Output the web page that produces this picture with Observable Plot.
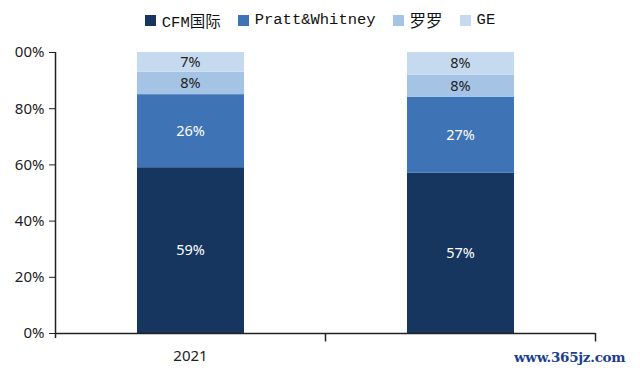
<!DOCTYPE html>
<html>
<head>
<meta charset="utf-8">
<script src="https://cdn.jsdelivr.net/npm/d3@7"></script>
<script src="https://cdn.jsdelivr.net/npm/@observablehq/plot@0.6"></script>
<style>
  html, body { margin: 0; padding: 0; background: #fff; }
  #wrap { position: relative; width: 640px; height: 376px; overflow: hidden; }
  #legend { position: absolute; top: 8px; left: 0; width: 640px; display: flex; justify-content: center; gap: 17px;
    font-family: "Liberation Mono", "Noto Sans CJK SC", monospace; font-size: 15.5px; color: #111; align-items: center; }
  #legend .item { display: flex; align-items: center; gap: 6px; }
  #legend .sw { width: 11px; height: 11px; display: inline-block; }
  #legend .cjk { font-family: "Noto Sans CJK SC", sans-serif; font-size: 16.5px; }
  #wm { position: absolute; left: 514px; top: 349px; font-family: "DejaVu Serif", serif; font-size: 13.5px; font-weight: bold; color: #1d3f8c; letter-spacing: -0.3px; }
</style>
</head>
<body>
<div id="wrap">
  <div id="chart"></div>
  <div id="legend"></div>
  <div id="wm">www.365jz.com</div>
</div>
<script>
const categories = ["2021", ""];
const companies = ["CFM国际", "Pratt&Whitney", "罗罗", "GE"];
const cfm = [59, 57];
const prattWhitney = [26, 27];
const rollsRoyce = [8, 8];
const ge = [7, 8];
const colors = ["#16365f", "#3e73b5", "#a5c3e5", "#c6daef"];
const labelColors = ["#ffffff", "#ffffff", "#222222", "#222222"];
const yTicks = [0, 20, 40, 60, 80, 100];
const yTickLabels = ["0%", "20%", "40%", "60%", "80%", "00%"];

const series = [cfm, prattWhitney, rollsRoyce, ge];
const rows = [];
categories.forEach((cat, i) => {
  let acc = 0;
  series.forEach((vals, s) => {
    const v = vals[i];
    rows.push({cat, i, company: companies[s], value: v, y1: acc, y2: acc + v, labelColor: labelColors[s]});
    acc += v;
  });
});

const chart = Plot.plot({
  width: 640,
  height: 376,
  marginTop: 52,
  marginBottom: 43,
  marginLeft: 55,
  marginRight: 45,
  style: {fontFamily: "'Noto Sans', sans-serif", fontSize: "15px", color: "#222", background: "#fff"},
  x: {domain: [0, categories.length], ticks: categories.map((c, i) => i + 0.5), tickFormat: v => categories[Math.floor(v)], tickSize: 0, tickPadding: 17, label: null},
  y: {domain: [0, 100], ticks: yTicks, tickFormat: v => yTickLabels[yTicks.indexOf(v)], tickSize: 6, tickPadding: 5, label: null},
  color: {domain: companies, range: colors},
  marks: [
    Plot.rect(rows, {x1: d => d.i, x2: d => d.i + 1, y1: "y1", y2: "y2", fill: "company", insetLeft: 82, insetRight: 81}),
    Plot.text(rows, {x: d => d.i + 0.5, y: d => (d.y1 + d.y2) / 2, text: d => d.value + "%", fill: "labelColor", fontSize: 14.5}),
    Plot.ruleY([0], {stroke: "#222", strokeWidth: 1.5}),
    Plot.ruleX([0], {y1: -1.8, y2: 100, stroke: "#222", strokeWidth: 1.5}),
    Plot.ruleX(d3.range(1, categories.length + 1), {y1: 0, y2: -3, stroke: "#222", strokeWidth: 1.5})
  ]
});
document.getElementById("chart").appendChild(chart);

const legend = document.getElementById("legend");
companies.forEach((c, s) => {
  const item = document.createElement("div");
  item.className = "item";
  const sw = document.createElement("span");
  sw.className = "sw";
  sw.style.background = colors[s];
  const t = document.createElement("span");
  t.textContent = c;
  if (/^[\u4e00-\u9fff]+$/.test(c)) t.className = "cjk";
  item.appendChild(sw);
  item.appendChild(t);
  legend.appendChild(item);
});
</script>
</body>
</html>
